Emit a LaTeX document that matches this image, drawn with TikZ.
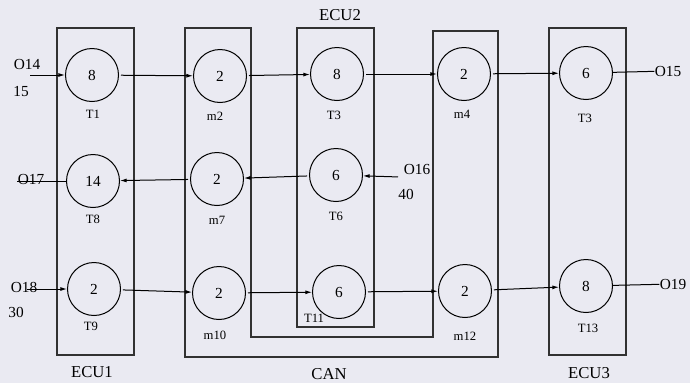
\documentclass[tikz,border=0pt]{standalone}
\usepackage{fontspec}
\setmainfont{Liberation Serif}
\usetikzlibrary{arrows.meta}

\definecolor{bgcol}{RGB}{234,234,242}
\definecolor{boxcol}{RGB}{50,50,50}

\tikzset{every picture/.style={line width=0.75pt}}
\tikzset{
  task/.style={draw, circle, minimum size=39.75pt, inner sep=0pt, font=\fontsize{11.5}{13}\selectfont},
  lab/.style={inner sep=0pt, font=\fontsize{9.5}{11}\selectfont},
  ecu/.style={draw=boxcol, line width=0.9pt},
  ecutxt/.style={inner sep=0pt, font=\fontsize{12.5}{14}\selectfont},
  sig/.style={inner sep=0pt, font=\fontsize{11.5}{13}\selectfont},
  msg/.style={-{Latex[length=5pt,width=3pt]}, shorten <=1.5pt},
}

\begin{document}
\begin{tikzpicture}[x=0.75pt,y=0.75pt,yscale=-1,xscale=1]
\fill[bgcol] (0,0) rectangle (690,383);
\useasboundingbox (0,0) rectangle (690,383);

%Shape: Rectangle [ECU1]
\draw[ecu] (57,28) rectangle (134,355);
%Shape: Polygon [CAN]
\draw[ecu] (185,28) -- (251,28) -- (251,337) -- (433,337) -- (433,31) -- (498,31) -- (498,357) -- (185,357) -- cycle;
%Shape: Rectangle [ECU2]
\draw[ecu] (297,28) rectangle (374,327);
%Shape: Rectangle [ECU3]
\draw[ecu] (549,28) rectangle (626,355);

%Shape: Circle
\node[task] (T1) at (92,75) {8};
\node[task] (m2) at (220,76) {2};
\node[task] (T3) at (337,74) {8};
\node[task] (m4) at (464,74) {2};
\node[task] (T3b) at (586,73) {6};
\node[task] (T8) at (93,181) {14};
\node[task] (m7) at (217,179) {2};
\node[task] (T6) at (336,175) {6};
\node[task] (T9) at (94,289) {2};
\node[task] (m10) at (219,293) {2};
\node[task] (T11) at (339,292) {6};
\node[task] (m12) at (465,291) {2};
\node[task] (T13) at (586,286) {8};

% Text Node
\node[lab] (lT1) at (93,114) {T1};
\node[lab] (lm2) at (215,116) {m2};
\node[lab] (lT3) at (334,115) {T3};
\node[lab] (lm4) at (462,114) {m4};
\node[lab] (lT3b) at (585,118) {T3};
\node[lab] (lT8) at (93,219) {T8};
\node[lab] (lm7) at (217,220) {m7};
\node[lab] (lT6) at (336,216) {T6};
\node[lab] (lT9) at (91,326) {T9};
\node[lab] (lm10) at (215,335) {m10};
\node[lab] (lT11) at (314,318) {T11};
\node[lab] (lm12) at (465,336) {m12};
\node[lab] (lT13) at (588,328) {T13};

% Text Node
\node[ecutxt] (ecu1) at (92,372) {ECU1};
\node[ecutxt] (ecu2) at (340,15) {ECU2};
\node[ecutxt] (ecu3) at (589,373) {ECU3};
\node[ecutxt] (can) at (329,374) {CAN};

% Text Node
\node[sig] (O14) at (27,64) {O14};
\node[sig] (r15) at (21,92) {15};
\node[sig] (O17) at (31,179) {O17};
\node[sig] (O18) at (24,287) {O18};
\node[sig] (r30) at (16,312) {30};
\node[sig] (O16) at (417,169) {O16};
\node[sig] (r40) at (406,194) {40};
\node[sig] (O15) at (668,71) {O15};
\node[sig] (O19) at (673,284) {O19};

\coordinate (i14) at (28,75);
\coordinate (o17) at (17,181);
\coordinate (i18) at (25,289);
\coordinate (i16) at (400,177);

%Straight Lines
\draw[msg] (i14) -- (T1);
\draw[msg] (T1) -- (m2);
\draw[msg] (m2) -- (T3);
\draw[msg] (T3) -- (m4);
\draw[msg] (m4) -- (T3b);
\draw (T3b) -- (O15);
%Straight Lines
\draw[msg] (i16) -- (T6);
\draw[msg] (T6) -- (m7);
\draw[msg] (m7) -- (T8);
\draw (T8) -- (o17);
%Straight Lines
\draw[msg] (i18) -- (T9);
\draw[msg] (T9) -- (m10);
\draw[msg] (m10) -- (T11);
\draw[msg] (T11) -- (m12);
\draw[msg] (m12) -- (T13);
\draw (T13) -- (O19);

\end{tikzpicture}
\end{document}
